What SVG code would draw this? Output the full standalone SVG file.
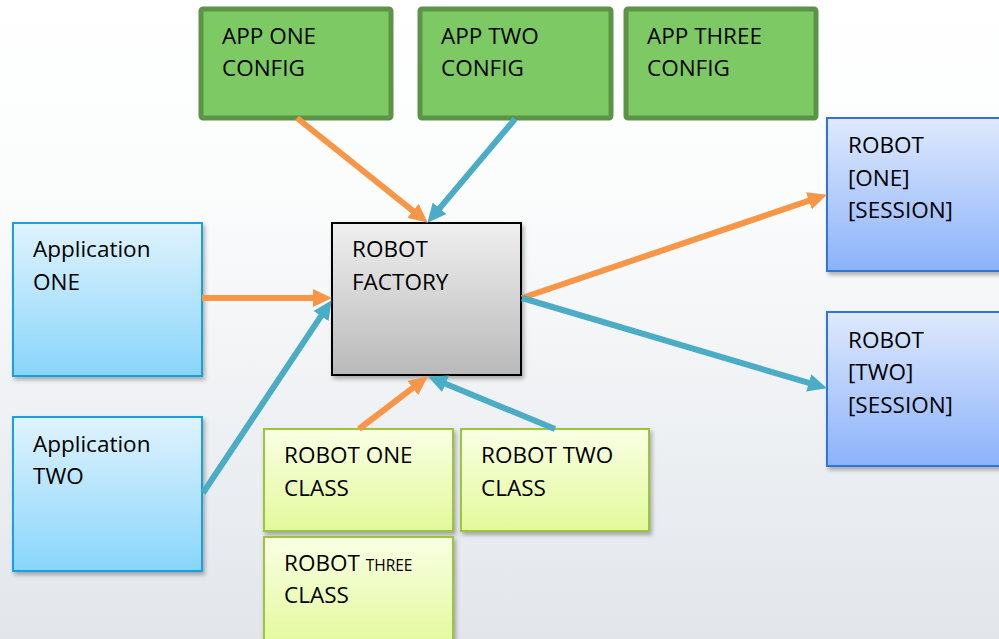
<svg xmlns="http://www.w3.org/2000/svg" width="999" height="639" viewBox="0 0 999 639">
<defs>
<linearGradient id="bg" x1="0" y1="0" x2="0" y2="1"><stop offset="0" stop-color="#ffffff"/><stop offset="0.3" stop-color="#fbfcfc"/><stop offset="1" stop-color="#e2e6eb"/></linearGradient>
<linearGradient id="gFac" x1="0" y1="0" x2="0" y2="1"><stop offset="0" stop-color="#efefef"/><stop offset="1" stop-color="#b9b9b9"/></linearGradient>
<linearGradient id="gApp" x1="0" y1="0" x2="0" y2="1"><stop offset="0" stop-color="#e0f3fd"/><stop offset="1" stop-color="#88d5fb"/></linearGradient>
<linearGradient id="gSes" x1="0" y1="0" x2="0" y2="1"><stop offset="0" stop-color="#dfe9fd"/><stop offset="1" stop-color="#8bb2fa"/></linearGradient>
<linearGradient id="gCls" x1="0" y1="0" x2="0" y2="1"><stop offset="0" stop-color="#f9ffe4"/><stop offset="1" stop-color="#e3f99a"/></linearGradient>
<filter id="sh" x="-10%" y="-10%" width="130%" height="130%"><feDropShadow dx="2" dy="3" stdDeviation="2" flood-color="#000" flood-opacity="0.3"/></filter>
<marker id="aO" markerUnits="userSpaceOnUse" markerWidth="19" markerHeight="18" refX="8" refY="9" orient="auto"><path d="M0,0 L19,9 L0,18 z" fill="#f79646"/></marker>
<marker id="aB" markerUnits="userSpaceOnUse" markerWidth="19" markerHeight="18" refX="8" refY="9" orient="auto"><path d="M0,0 L19,9 L0,18 z" fill="#4bacc6"/></marker>
<style>
text{font-family:"Open Sans","Liberation Sans",sans-serif;font-size:22.5px;fill:#000}
.cfg{fill:#7dc964;stroke:#5c9447;stroke-width:5}
.fac{fill:url(#gFac);stroke:#000;stroke-width:2;filter:url(#sh)}
.app{fill:url(#gApp);stroke:#17a2e0;stroke-width:2;filter:url(#sh)}
.ses{fill:url(#gSes);stroke:#2d74d6;stroke-width:2;filter:url(#sh)}
.cls{fill:url(#gCls);stroke:#9cc43c;stroke-width:2;filter:url(#sh)}
.o{stroke:#f79646;stroke-width:6;fill:none;marker-end:url(#aO)}
.b{stroke:#4bacc6;stroke-width:6;fill:none;marker-end:url(#aB)}
.sm{font-size:15.5px}
</style>
</defs>
<rect width="999" height="639" fill="url(#bg)"/>

<g id="app-one-config"><rect class="cfg" x="201" y="9" width="190" height="109" rx="2"/><text x="222" y="44">APP ONE</text><text x="222" y="76">CONFIG</text></g>
<g id="app-two-config"><rect class="cfg" x="420" y="9" width="191" height="109" rx="2"/><text x="441" y="44">APP TWO</text><text x="441" y="76">CONFIG</text></g>
<g id="app-three-config"><rect class="cfg" x="626" y="9" width="190" height="109" rx="2"/><text x="647" y="44">APP THREE</text><text x="647" y="76">CONFIG</text></g>

<g id="robot-factory"><rect class="fac" x="332" y="223" width="189" height="152"/><text x="352" y="257">ROBOT</text><text x="352" y="290">FACTORY</text></g>

<g id="application-one"><rect class="app" x="13" y="223" width="189" height="153"/><text x="33" y="257">Application</text><text x="33" y="290">ONE</text></g>
<g id="application-two"><rect class="app" x="13" y="417" width="189" height="154"/><text x="33" y="452">Application</text><text x="33" y="484">TWO</text></g>

<g id="robot-one-session"><rect class="ses" x="827" y="118" width="190" height="153"/><text x="848" y="153">ROBOT</text><text x="848" y="186">[ONE]</text><text x="848" y="218">[SESSION]</text></g>
<g id="robot-two-session"><rect class="ses" x="827" y="312" width="190" height="154"/><text x="848" y="348">ROBOT</text><text x="848" y="380">[TWO]</text><text x="848" y="413">[SESSION]</text></g>

<g id="robot-one-class"><rect class="cls" x="264" y="429" width="189" height="102"/><text x="284" y="463">ROBOT ONE</text><text x="284" y="496">CLASS</text></g>
<g id="robot-two-class"><rect class="cls" x="461" y="429" width="188" height="102"/><text x="481" y="463">ROBOT TWO</text><text x="481" y="496">CLASS</text></g>
<g id="robot-three-class"><rect class="cls" x="264" y="537" width="189" height="110"/><text x="284" y="571">ROBOT <tspan class="sm">THREE</tspan></text><text x="284" y="603">CLASS</text></g>

<g id="connectors">
<line class="o" x1="297" y1="118" x2="419.2" y2="215.8"/>
<line class="b" x1="515" y1="119" x2="434.5" y2="214.4"/>
<line class="o" x1="202" y1="298" x2="321" y2="298"/>
<line class="b" x1="203" y1="493" x2="325.5" y2="309.3"/>
<line class="o" x1="359" y1="429" x2="419.1" y2="383.1"/>
<line class="b" x1="555" y1="429" x2="438.2" y2="380.8"/>
<line class="o" x1="522" y1="298" x2="816.5" y2="198.2"/>
<line class="b" x1="522" y1="298" x2="816.4" y2="385.2"/>
</g>
</svg>
